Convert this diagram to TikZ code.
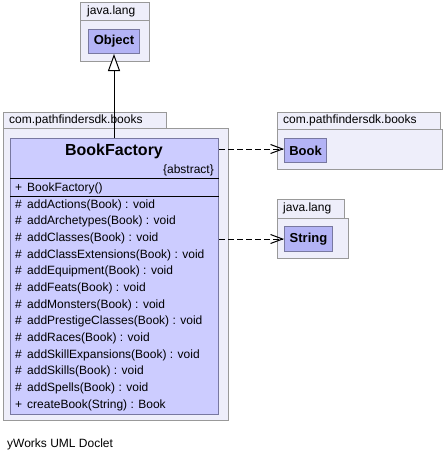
\documentclass[tikz,border=0pt]{standalone}
\usepackage{fontspec}
\setsansfont{Liberation Sans}
\usepackage{xcolor}
\usepackage{tikz}
\usetikzlibrary{calc}
\usetikzlibrary{arrows.meta}
\definecolor{pkgfill}{RGB}{238,238,250}
\definecolor{pkgline}{RGB}{153,153,153}
\definecolor{clsfill}{RGB}{204,204,255}
\definecolor{reffill}{RGB}{179,179,245}
\definecolor{clsline}{RGB}{120,120,160}
\tikzset{
  pkgbox/.style={draw=pkgline,fill=pkgfill,line width=1pt,anchor=north west,inner sep=0pt},
  refbox/.style={draw=clsline,fill=reffill,line width=1pt,anchor=north west,inner sep=0pt},
  pkglabel/.style={anchor=west,inner sep=0pt,font=\sffamily\fontsize{12}{14}\selectfont},
  member/.style={anchor=west,inner sep=0pt,font=\sffamily\fontsize{12}{14}\selectfont},
  gen/.style={line width=1pt,-{Triangle[open,length=17pt,width=12pt,fill=white]}},
  dep/.style={line width=1pt,dash pattern=on 6pt off 3pt,-{Straight Barb[length=12pt,width=9pt]}}
}
\newcommand{\vis}[1]{\makebox[12pt][l]{#1}}

\begin{document}
\begin{tikzpicture}[x=1pt,y=-1pt,font=\sffamily]
	\useasboundingbox (0,0) rectangle (444,460);
	% java.lang (Object)
	\node[pkgbox,minimum width=69pt,minimum height=18pt] (langtab1) at (80,2) {};
	\node[pkgbox,minimum width=69pt,minimum height=41pt] (lang1) at (80,20) {};
	\node[pkglabel] at (87,11) {java.lang};
	\node[refbox,minimum width=51pt,minimum height=24pt,font=\sffamily\bfseries\fontsize{13}{15}\selectfont] (obj) at (88,29) {};
	\node[font=\sffamily\bfseries\fontsize{13}{15}\selectfont] at (obj.center) {Object};
	% com.pathfindersdk.books (BookFactory)
	\node[pkgbox,minimum width=163pt,minimum height=16pt] (bookstab1) at (3,112) {};
	\node[pkgbox,minimum width=225pt,minimum height=292pt] (books1) at (3,128) {};
	\node[pkglabel] at (9,120) {com.pathfindersdk.books};
	\node[draw=clsline,fill=clsfill,line width=1pt,anchor=north west,inner sep=0pt,minimum width=208pt,minimum height=276pt] (bf) at (10,138) {};
	\node[font=\sffamily\bfseries\fontsize{16}{18}\selectfont] (bftitle) at (114,151) {BookFactory};
	\node[member,anchor=east] (bfabs) at (214,170) {\{abstract\}};
	\draw[line width=1pt] (bf.west |- 0,178) -- (bf.east |- 0,178);
	\node[member] (c1) at (15,188) {\vis{+}BookFactory()};
	\draw[line width=1pt] (bf.west |- 0,196) -- (bf.east |- 0,196);
	\node[member] (m1) at (15,205) {\vis{\#}addActions(Book) : void};
	\node[member] (m2) at (15,221.7) {\vis{\#}addArchetypes(Book) : void};
	\node[member] (m3) at (15,238.3) {\vis{\#}addClasses(Book) : void};
	\node[member] (m4) at (15,255) {\vis{\#}addClassExtensions(Book) : void};
	\node[member] (m5) at (15,271.7) {\vis{\#}addEquipment(Book) : void};
	\node[member] (m6) at (15,288.3) {\vis{\#}addFeats(Book) : void};
	\node[member] (m7) at (15,305) {\vis{\#}addMonsters(Book) : void};
	\node[member] (m8) at (15,321.7) {\vis{\#}addPrestigeClasses(Book) : void};
	\node[member] (m9) at (15,338.3) {\vis{\#}addRaces(Book) : void};
	\node[member] (m10) at (15,355) {\vis{\#}addSkillExpansions(Book) : void};
	\node[member] (m11) at (15,371.7) {\vis{\#}addSkills(Book) : void};
	\node[member] (m12) at (15,388.3) {\vis{\#}addSpells(Book) : void};
	\node[member] (m13) at (15,405) {\vis{+}createBook(String) : Book};
	% com.pathfindersdk.books (Book)
	\node[pkgbox,minimum width=163pt,minimum height=17pt] (bookstab2) at (277,112) {};
	\node[pkgbox,minimum width=165pt,minimum height=40pt] (books2) at (277,129) {};
	\node[pkglabel] at (283,120.5) {com.pathfindersdk.books};
	\node[refbox,minimum width=42pt,minimum height=24pt] (book) at (284,138) {};
	\node[font=\sffamily\bfseries\fontsize{13}{15}\selectfont] at (book.center) {Book};
	% java.lang (String)
	\node[pkgbox,minimum width=67pt,minimum height=19pt] (langtab2) at (277,199) {};
	\node[pkgbox,minimum width=71pt,minimum height=40pt] (lang2) at (277,218) {};
	\node[pkglabel] at (283,208.5) {java.lang};
	\node[refbox,minimum width=48pt,minimum height=25pt] (str) at (284,226) {};
	\node[font=\sffamily\bfseries\fontsize{13}{15}\selectfont] at (str.center) {String};
	% relations
	\draw[gen] (obj.south |- bf.north) -- (obj.south);
	\draw[dep] (bf.east |- 0,149) -- (book.west |- 0,149);
	\draw[dep] (bf.east |- str.west) -- (str.west);
	\node[member] (doclet) at (7,444) {yWorks UML Doclet};
\end{tikzpicture}
\end{document}
